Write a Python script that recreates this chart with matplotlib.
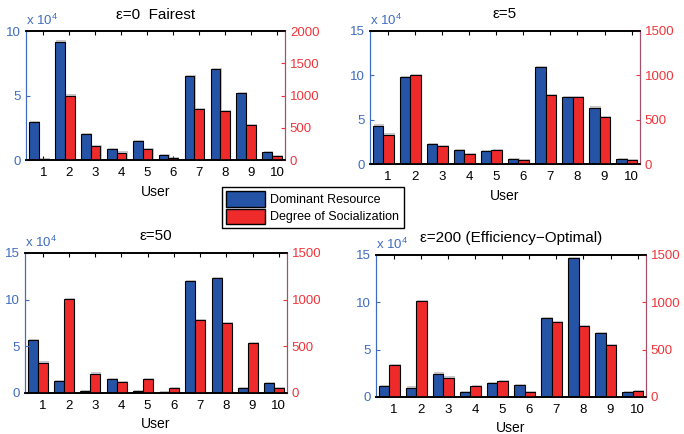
import numpy as np
import matplotlib
matplotlib.use('Agg')
import matplotlib.pyplot as plt
from matplotlib import patheffects
from matplotlib.patches import Patch

plt.rcParams['font.family'] = ['Liberation Sans', 'DejaVu Sans']
plt.rcParams['mathtext.fontset'] = 'custom'
plt.rcParams['mathtext.rm'] = 'Liberation Sans'

users = np.arange(1, 11)

# dominant resource (x 10^4) and degree of socialization per panel
titles = ['ε=0  Fairest', 'ε=5', 'ε=50', 'ε=200 (Efficiency\u2212Optimal)']
dom_eps0 = [2.95, 9.18, 2.01, 0.85, 1.5, 0.41, 6.52, 7.06, 5.2, 0.64]
soc_eps0 = [10, 1000, 210, 115, 175, 36, 790, 760, 545, 55]
dom_eps5 = [4.33, 9.84, 2.26, 1.62, 1.5, 0.53, 10.97, 7.5, 6.37, 0.6]
soc_eps5 = [332, 1005, 204, 113, 162, 49, 780, 750, 531, 49]
dom_eps50 = [5.67, 1.26, 0.18, 1.54, 0.18, 0.1, 12.02, 12.27, 0.57, 1.08]
soc_eps50 = [326, 1008, 208, 118, 154, 50, 779, 750, 538, 57]
dom_eps200 = [1.2, 0.99, 2.47, 0.49, 1.48, 1.3, 8.37, 14.65, 6.71, 0.49]
soc_eps200 = [335, 1013, 205, 120, 166, 49, 787, 748, 544, 60]

dom_all = [dom_eps0, dom_eps5, dom_eps50, dom_eps200]
soc_all = [soc_eps0, soc_eps5, soc_eps50, soc_eps200]
left_max = [10, 15, 15, 15]
right_max = [2000, 1500, 1500, 1500]

blue = '#2553A6'
red = '#EE2A2A'
tick_blue = '#3F6CC0'
tick_red = '#F0353A'

positions = [
    [0.038, 0.6313, 0.3787, 0.2972],
    [0.5409, 0.6221, 0.3947, 0.3065],
    [0.0365, 0.0945, 0.383, 0.3226],
    [0.5497, 0.0853, 0.3947, 0.3272],
]

shadow = [patheffects.SimplePatchShadow(offset=(0.8, 0.8), shadow_rgbFace='#888888', alpha=0.45),
          patheffects.Normal()]

fig = plt.figure(figsize=(6.84, 4.34), dpi=100)

for i in range(4):
    ax = fig.add_axes(positions[i])
    ax2 = ax.twinx()
    dom = np.array(dom_all[i])
    soc = np.array(soc_all[i])

    b1 = ax.bar(users - 0.37, dom, width=0.38, color=blue, edgecolor='black', linewidth=0.8)
    b2 = ax2.bar(users + 0.01, soc, width=0.38, color=red, edgecolor='black', linewidth=0.8)
    for p in list(b1) + list(b2):
        p.set_path_effects(shadow)

    ax.set_xlim(0.33, 10.31)
    ax.set_ylim(0, left_max[i])
    ax2.set_ylim(0, right_max[i])
    ax.set_xticks(users)
    ax.set_yticks(np.arange(0, left_max[i] + 1, 5))
    ax2.set_yticks(np.arange(0, right_max[i] + 1, 500))

    ax.tick_params(axis='x', direction='in', top=True, length=3, labelsize=9.5, colors='black', pad=5)
    ax.tick_params(axis='y', direction='in', length=3, labelsize=9.5, colors=tick_blue)
    ax2.tick_params(axis='y', direction='in', length=3, labelsize=9.5, colors=tick_red)

    for a in (ax, ax2):
        a.spines['left'].set_color(tick_blue)
        a.spines['right'].set_color('#A0506A')
        a.spines['top'].set_color('black')
        a.spines['bottom'].set_color('black')
        a.spines['top'].set_linewidth(1.2)
        a.spines['bottom'].set_linewidth(1.2)

    ax.set_xlabel('User', fontsize=10, labelpad=4)
    ax.set_title(titles[i], fontsize=11, pad=9)
    ax.text(0.0, 1.02, r'x 10$^{4}$', transform=ax.transAxes, color=tick_blue,
            fontsize=9.5, ha='left', va='bottom')

handles = [Patch(facecolor=blue, edgecolor='black', label='Dominant Resource'),
           Patch(facecolor=red, edgecolor='black', label='Degree of Socialization')]
leg = fig.legend(handles=handles, loc='upper left', bbox_to_anchor=(0.3246, 0.5691),
                 fontsize=9, fancybox=False, edgecolor='black', framealpha=1,
                 handlelength=3.1, handleheight=1.5, borderpad=0.35, labelspacing=0.15,
                 handletextpad=0.4, borderaxespad=0)
leg.get_frame().set_linewidth(1.0)

fig.savefig('out.png', dpi=100)
